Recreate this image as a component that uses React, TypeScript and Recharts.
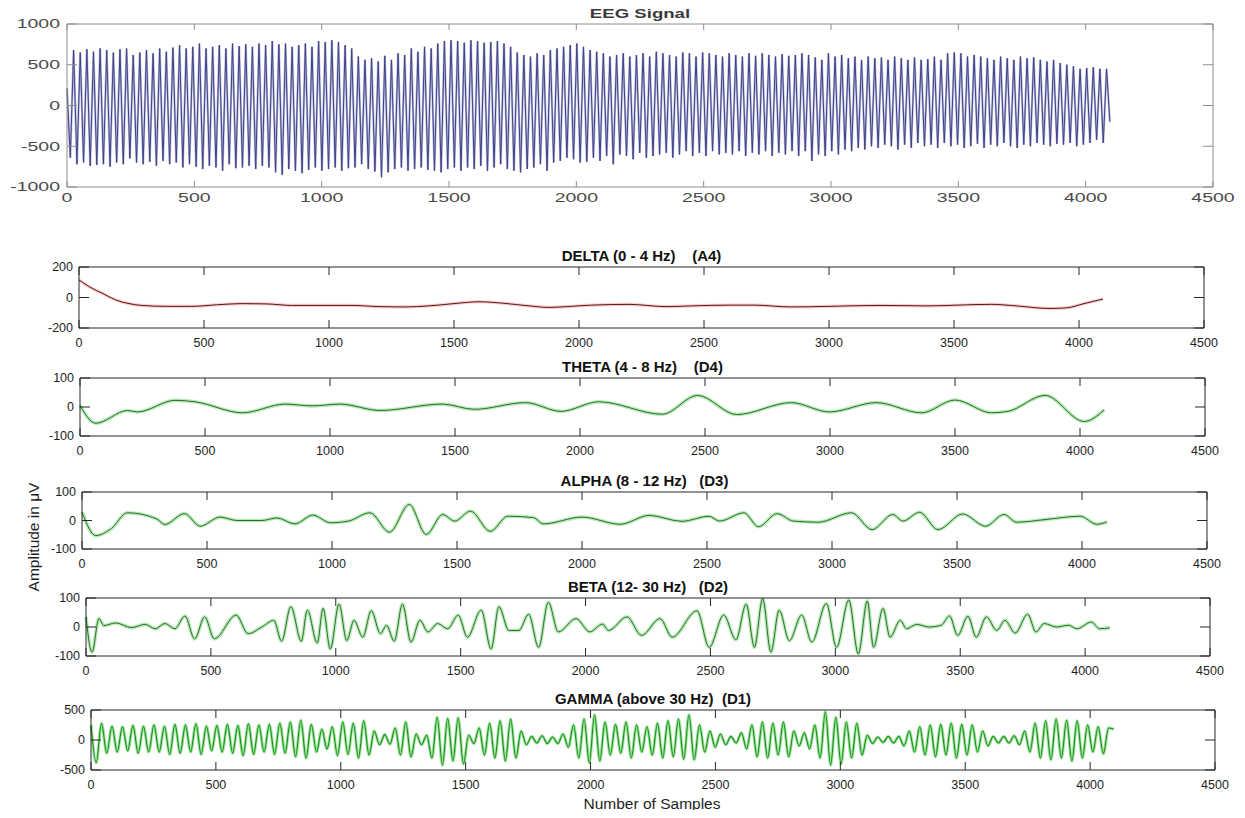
import React from 'react';
import { LineChart, Line, XAxis, YAxis } from 'recharts';

// sample-number ticks shared by every panel
const sampleTicks = [0, 500, 1000, 1500, 2000, 2500, 3000, 3500, 4000, 4500];

// raw EEG: alternating peak / trough read every 13 samples
const eegStep = 13;
const eegValues = [
  210, -640, 680, -720, 650, -700, 690, -740, 660, -730, 700, -720, 680, -750, 650, -700, 690, -720, 700, -650,
  620, -700, 650, -720, 680, -690, 640, -740, 700, -680, 660, -720, 710, -700, 740, -760, 700, -720, 720, -750,
  760, -780, 700, -740, 720, -760, 740, -800, 700, -720, 760, -770, 730, -760, 750, -740, 720, -780, 760, -740,
  740, -760, 790, -820, 750, -850, 760, -780, 720, -800, 740, -830, 760, -790, 720, -760, 790, -800, 780, -780,
  800, -760, 780, -800, 740, -770, 700, -760, 600, -720, 560, -780, 580, -810, 540, -880, 610, -820, 560, -780,
  640, -760, 620, -800, 700, -780, 660, -760, 720, -790, 700, -800, 760, -820, 790, -780, 800, -760, 790, -800,
  770, -760, 800, -780, 790, -740, 770, -800, 780, -760, 790, -720, 760, -780, 720, -800, 650, -820, 620, -780,
  600, -760, 640, -720, 620, -800, 680, -700, 700, -680, 720, -640, 740, -660, 760, -700, 720, -690, 680, -640,
  660, -680, 640, -620, 600, -720, 620, -600, 640, -620, 600, -660, 620, -580, 640, -640, 600, -620, 660, -600,
  640, -580, 620, -640, 600, -600, 650, -560, 640, -620, 600, -580, 650, -620, 640, -560, 620, -600, 600, -580,
  640, -600, 620, -560, 600, -620, 640, -580, 610, -600, 640, -560, 620, -620, 600, -580, 630, -600, 610, -560,
  620, -620, 640, -560, 620, -680, 590, -600, 560, -620, 640, -560, 600, -600, 620, -540, 580, -560, 600, -520,
  560, -540, 600, -500, 580, -520, 590, -480, 560, -500, 600, -540, 580, -480, 560, -520, 590, -460, 560, -500,
  570, -480, 600, -520, 560, -460, 640, -500, 650, -480, 640, -520, 600, -500, 620, -470, 600, -520, 580, -480,
  560, -500, 600, -460, 580, -500, 560, -520, 600, -480, 580, -500, 590, -460, 560, -480, 540, -500, 560, -470,
  520, -480, 500, -460, 480, -500, 450, -480, 460, -460, 470, -420, 450, -460, 450, -200,
];

// DELTA (A4)
const deltaSamples = [0, 40, 100, 150, 200, 250, 350, 450, 550, 650, 750, 850, 1000, 1100, 1200, 1300, 1400, 1500, 1600, 1700, 1800, 1880, 1950, 2050, 2200, 2350, 2450, 2600, 2700, 2850, 3000, 3200, 3400, 3550, 3650, 3750, 3880, 3950, 4020, 4096];
const deltaValues = [115, 72, 22, -18, -40, -52, -58, -58, -48, -40, -42, -52, -52, -52, -60, -62, -55, -40, -28, -38, -55, -65, -60, -50, -45, -60, -55, -50, -50, -62, -58, -52, -55, -48, -45, -55, -72, -68, -40, -10];

// THETA (D4)
const thetaSamples = [0, 63, 190, 230, 380, 460, 650, 820, 930, 1040, 1200, 1450, 1577, 1782, 1924, 2075, 2330, 2470, 2627, 2845, 2997, 3185, 3367, 3500, 3646, 3712, 3860, 4017, 4097];
const thetaValues = [5, -56, -12, -17, 23, 18, -20, 10, 4, 10, -12, 10, -8, 15, -15, 18, -25, 40, -26, 15, -17, 15, -20, 24, -20, -15, 40, -50, -10];

// ALPHA (D3)
const alphaSamples = [0, 55, 118, 181, 300, 331, 410, 473, 552, 620, 720, 780, 852, 923, 994, 1066, 1152, 1230, 1309, 1377, 1443, 1491, 1554, 1633, 1703, 1806, 1845, 2000, 2153, 2269, 2400, 2508, 2550, 2648, 2706, 2780, 2846, 2945, 3078, 3160, 3243, 3284, 3350, 3424, 3523, 3614, 3688, 3738, 3860, 3993, 4059, 4100];
const alphaValues = [30, -53, -28, 27, 5, -14, 24, -20, 12, 0, 0, 9, -12, 19, -8, -2, 27, -41, 56, -49, 21, -2, 33, -38, 15, 10, -12, 12, -13, 18, -3, 15, -2, 27, -22, 24, -2, -6, 27, -32, 21, -2, 29, -32, 23, -20, 21, -6, 4, 15, -13, -5];

// BETA (D2)
const betaSamples = [0, 24, 52, 71, 119, 182, 237, 277, 316, 356, 396, 435, 475, 514, 601, 649, 704, 752, 783, 820, 862, 886, 926, 949, 978, 1013, 1044, 1073, 1108, 1142, 1179, 1203, 1234, 1267, 1301, 1337, 1369, 1408, 1448, 1490, 1527, 1582, 1622, 1653, 1693, 1733, 1772, 1812, 1851, 1891, 1962, 2017, 2068, 2092, 2166, 2224, 2298, 2347, 2446, 2495, 2553, 2602, 2643, 2676, 2709, 2742, 2775, 2816, 2865, 2906, 2964, 3005, 3054, 3092, 3128, 3153, 3191, 3219, 3260, 3285, 3326, 3375, 3424, 3457, 3490, 3531, 3564, 3605, 3646, 3679, 3720, 3770, 3803, 3836, 3885, 3934, 3967, 4025, 4058, 4099];
const betaValues = [35, -87, 29, 5, 14, -2, 9, -6, 12, -6, 38, -41, 35, -41, 41, -23, 0, 23, -49, 70, -49, 58, -55, 64, -76, 79, -47, 23, -35, 56, -23, 6, -49, 79, -52, 23, -17, 12, -6, 41, -35, 58, -76, 70, -12, -12, 44, -70, 85, -17, 29, -17, 10, -12, 35, -29, 29, -35, 56, -70, 41, -44, 79, -70, 98, -87, 58, -47, 41, -52, 81, -70, 93, -93, 90, -70, 64, -35, 23, -6, 9, 0, 6, 38, -29, 37, -35, 35, -12, 23, -21, 44, -17, 12, 0, 6, -6, 17, -6, -3];

// GAMMA (D1): alternating peak / trough read every 21 samples
const gammaStep = 21;
const gammaValues = [
  250, -380, 280, -220, 230, -200, 220, -180, 240, -220, 230, -200, 250, -200, 230, -240, 260, -220, 250, -200,
  270, -240, 230, -180, 240, -200, 260, -220, 240, -260, 270, -240, 250, -200, 260, -240, 280, -220, 300, -280,
  330, -300, 260, -200, 180, -150, 220, -260, 300, -240, 280, -300, 320, -250, 150, -80, 90, -70, 200, -250,
  300, -280, 100, -80, 80, -300, 380, -420, 360, -350, 370, -400, 80, -60, 200, -250, 280, -300, 320, -350,
  350, -300, 150, -80, 60, -50, 70, -60, 50, -60, 100, -120, 250, -300, 350, -380, 420, -350, 300, -250,
  260, -220, 300, -300, 250, -200, 220, -250, 280, -300, 320, -280, 350, -320, 420, -330, 250, -200, 150, -120,
  100, -80, 60, -50, 120, -150, 250, -280, 300, -300, 280, -250, 300, -280, 150, -100, 120, -150, 250, -300,
  470, -420, 380, -400, 300, -300, 280, -250, 80, -60, 50, -40, 60, -50, 60, -100, 150, -200, 220, -250,
  250, -280, 260, -250, 280, -300, 260, -250, 250, -200, 150, -100, 60, -50, 60, -50, 70, -80, 150, -200,
  280, -300, 320, -330, 350, -300, 330, -350, 320, -300, 250, -200, 220, -230, 200, 180,
];

const bandTitles = [
  'DELTA (0 - 4 Hz)    (A4)',
  'THETA (4 - 8 Hz)    (D4)',
  'ALPHA (8 - 12 Hz)   (D3)',
  'BETA (12- 30 Hz)   (D2)',
  'GAMMA (above 30 Hz)  (D1)',
];

type Row = { x: number; y: number };
const pairRows = (xs: number[], ys: number[]): Row[] => xs.map((x, i) => ({ x, y: ys[i] }));
const stepRows = (step: number, ys: number[]): Row[] => ys.map((y, i) => ({ x: i * step, y }));

type Stroke = { color: string; width: number; opacity?: number };

const YW = 70;
const MT = 6;
const MR = 45;
const XH = 30;

const sans = '"Liberation Sans", Arial, Helvetica, sans-serif';

const eegStrokes: Stroke[] = [
  { color: '#9a9cc8', width: 2.2, opacity: 0.7 },
  { color: '#3e4288', width: 1 },
];
const redStrokes: Stroke[] = [
  { color: '#f4a6a6', width: 3.2, opacity: 0.6 },
  { color: '#5c1616', width: 1 },
];
const greenStrokes: Stroke[] = [
  { color: '#8fe08f', width: 3.6, opacity: 0.65 },
  { color: '#2c6a2c', width: 1 },
];
const gammaStrokes: Stroke[] = [
  { color: '#6fd86f', width: 3, opacity: 0.7 },
  { color: '#1c8c1c', width: 1.1 },
];

function Panel(props: {
  box: [number, number, number, number];
  data: Row[];
  domain: [number, number];
  yTicks: number[];
  raw?: boolean;
  strokes: Stroke[];
  curve: 'linear' | 'monotone';
}) {
  const { box, data, domain, yTicks, raw, strokes, curve } = props;
  const [x0, y0, x1, y1] = box;
  const w = x1 - x0;
  const h = y1 - y0;
  const axisColor = raw ? '#8e8e8e' : '#262626';
  const textColor = raw ? '#4a4a4a' : '#1e1e1e';
  const xLen = raw ? 6 : 8;
  const yLen = 10;
  const lastX = sampleTicks[sampleTicks.length - 1];

  // bottom tick: label below, inward marks at bottom and top, right border on the last one
  const xTick = (p: any) => {
    const { x, y, payload } = p;
    return (
      <g>
        <line x1={x} y1={y} x2={x} y2={y - xLen} stroke={axisColor} />
        <line x1={x} y1={y - h} x2={x} y2={y - h + xLen} stroke={axisColor} />
        {payload.value === lastX && <line x1={x} y1={y} x2={x} y2={y - h} stroke={axisColor} />}
        {raw ? (
          <text transform={`translate(${x},${y + 11}) scale(1.5,1)`} textAnchor="middle" dominantBaseline="central" fill={textColor} fontSize={13}>
            {payload.value}
          </text>
        ) : (
          <text x={x} y={y + 15} textAnchor="middle" dominantBaseline="central" fill={textColor} fontSize={12.5}>
            {payload.value}
          </text>
        )}
      </g>
    );
  };

  // left tick: label, inward marks on both sides, top border on the highest one
  const yTick = (p: any) => {
    const { x, y, payload } = p;
    return (
      <g>
        <line x1={x} y1={y} x2={x + yLen} y2={y} stroke={axisColor} />
        <line x1={x + w - yLen} y1={y} x2={x + w} y2={y} stroke={axisColor} />
        {payload.value === domain[1] && <line x1={x} y1={y} x2={x + w} y2={y} stroke={axisColor} />}
        {raw ? (
          <text transform={`translate(${x - 7},${y}) scale(1.5,1)`} textAnchor="end" dominantBaseline="central" fill={textColor} fontSize={13}>
            {payload.value}
          </text>
        ) : (
          <text x={x - 6} y={y} textAnchor="end" dominantBaseline="central" fill={textColor} fontSize={12.5}>
            {payload.value}
          </text>
        )}
      </g>
    );
  };

  return (
    <div style={{ position: 'absolute', left: x0 - YW, top: y0 - MT }}>
      <LineChart width={YW + w + MR} height={MT + h + XH} data={data} margin={{ top: MT, right: MR, bottom: 0, left: 0 }}>
        <XAxis
          dataKey="x"
          type="number"
          domain={[0, 4500]}
          ticks={sampleTicks}
          interval={0}
          height={XH}
          tickSize={0}
          tickMargin={0}
          tickLine={false}
          axisLine={{ stroke: axisColor }}
          tick={xTick}
        />
        <YAxis
          type="number"
          domain={domain}
          ticks={yTicks}
          interval={0}
          width={YW}
          tickSize={0}
          tickMargin={0}
          tickLine={false}
          axisLine={{ stroke: axisColor }}
          tick={yTick}
        />
        {strokes.map((s, i) => (
          <Line
            key={i}
            dataKey="y"
            type={curve}
            stroke={s.color}
            strokeWidth={s.width}
            strokeOpacity={s.opacity ?? 1}
            dot={false}
            activeDot={false}
            isAnimationActive={false}
          />
        ))}
      </LineChart>
    </div>
  );
}

const bandBoxes: [number, number, number, number][] = [
  [79, 267, 1204, 328],
  [80, 378, 1205, 436],
  [82, 492, 1207, 549],
  [86, 598, 1210, 656],
  [91, 710, 1215, 770],
];

export default function App() {
  const bands = [
    { data: pairRows(deltaSamples, deltaValues), domain: [-200, 200] as [number, number], ticks: [-200, 0, 200], strokes: redStrokes },
    { data: pairRows(thetaSamples, thetaValues), domain: [-100, 100] as [number, number], ticks: [-100, 0, 100], strokes: greenStrokes },
    { data: pairRows(alphaSamples, alphaValues), domain: [-100, 100] as [number, number], ticks: [-100, 0, 100], strokes: greenStrokes },
    { data: pairRows(betaSamples, betaValues), domain: [-100, 100] as [number, number], ticks: [-100, 0, 100], strokes: greenStrokes },
    { data: stepRows(gammaStep, gammaValues), domain: [-500, 500] as [number, number], ticks: [-500, 0, 500], strokes: gammaStrokes },
  ];

  return (
    <div style={{ position: 'relative', width: 1245, height: 818, margin: -8, overflow: 'hidden', background: '#fff', fontFamily: sans }}>
      <div
        style={{
          position: 'absolute',
          left: 640,
          top: 14,
          transform: 'translate(-50%, -50%) scaleX(1.55)',
          fontSize: 12,
          fontWeight: 'bold',
          color: '#3a3a3a',
          whiteSpace: 'pre',
          lineHeight: 1,
        }}
      >
        EEG Signal
      </div>
      <Panel
        box={[67, 24, 1213, 187]}
        data={stepRows(eegStep, eegValues)}
        domain={[-1000, 1000]}
        yTicks={[-1000, -500, 0, 500, 1000]}
        raw
        strokes={eegStrokes}
        curve="linear"
      />

      {bands.map((b, i) => {
        const [x0, y0, x1] = bandBoxes[i];
        return (
          <React.Fragment key={i}>
            <div
              style={{
                position: 'absolute',
                left: (x0 + x1) / 2,
                top: y0 - 12,
                transform: 'translate(-50%, -50%)',
                fontSize: 15,
                fontWeight: 'bold',
                color: '#111',
                whiteSpace: 'pre',
                lineHeight: 1,
              }}
            >
              {bandTitles[i]}
            </div>
            <Panel box={bandBoxes[i]} data={b.data} domain={b.domain} yTicks={b.ticks} strokes={b.strokes} curve="monotone" />
          </React.Fragment>
        );
      })}

      <div style={{ position: 'absolute', left: 652, top: 804, transform: 'translate(-50%, -50%)', fontSize: 15.5, color: '#1e1e1e', whiteSpace: 'pre', lineHeight: 1.2 }}>
        Number of Samples
      </div>
      <div
        style={{
          position: 'absolute',
          left: 34,
          top: 537,
          transform: 'translate(-50%, -50%) rotate(-90deg)',
          fontSize: 15.5,
          color: '#1e1e1e',
          whiteSpace: 'pre',
          lineHeight: 1,
        }}
      >
        Amplitude in μV
      </div>
    </div>
  );
}
